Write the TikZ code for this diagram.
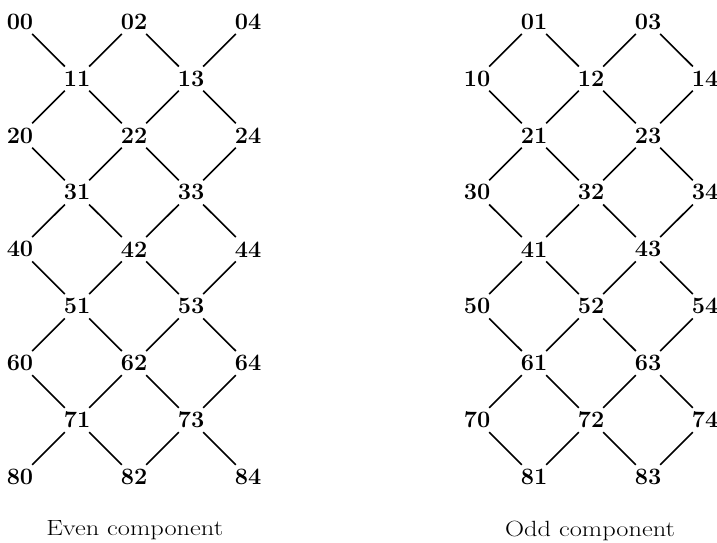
\documentclass[tikz,border=0pt]{standalone}
\usepackage{fontspec}
\begin{document}
\begin{tikzpicture}[x=1pt,y=-1pt,
  lab/.style={circle,inner sep=0pt,minimum size=34pt,font=\fontsize{23.5}{27}\selectfont\bfseries},
  edge/.style={line width=1.6pt},
  captext/.style={inner sep=0pt,font=\fontsize{22}{26}\selectfont}]
\useasboundingbox (0,0) rectangle (717,542);
\foreach \r in {0,...,8}{
  \foreach \c in {0,...,4}{
    \pgfmathtruncatemacro\p{mod(\r+\c,2)}
    \ifnum\p=0
      \node[lab] (e\r\c) at ({20+57*\c},{21.7+56.9*\r}) {\r\c};
    \else
      \node[lab] (o\r\c) at ({477+57*\c},{21.7+56.9*\r}) {\r\c};
    \fi
  }}
\foreach \r in {0,...,7}{
  \foreach \c in {0,...,4}{
    \pgfmathtruncatemacro\s{\r+1}
    \pgfmathtruncatemacro\p{mod(\r+\c,2)}
    \ifnum\p=0 \def\pre{e}\else\def\pre{o}\fi
    \pgfmathtruncatemacro\colL{\c-1}
    \pgfmathtruncatemacro\colR{\c+1}
    \ifnum\c>0 \draw[edge] (\pre\r\c) -- (\pre\s\colL); \fi
    \ifnum\c<4 \draw[edge] (\pre\r\c) -- (\pre\s\colR); \fi
  }}
\node[captext] (capE) at (134.7,530.5) {\scalebox{1.2}[1]{Even component}};
\node[captext] (capO) at (590,530.5) {\scalebox{1.2}[1]{Odd component}};
\end{tikzpicture}
\end{document}
